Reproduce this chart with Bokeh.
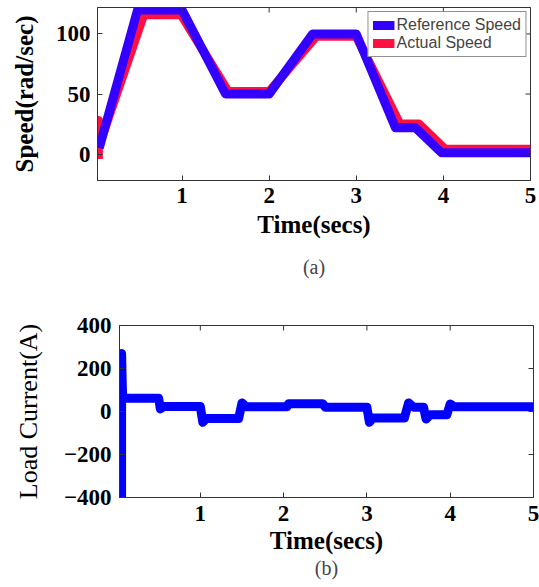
import math
from bokeh.plotting import figure
from bokeh.models import FixedTicker, Legend, LegendItem, Title
from bokeh.embed import file_html
from bokeh.resources import INLINE

# ---- data: panel (a) speed ----
ref_t = [0.05, 0.49, 1.0, 1.5, 2.0, 2.5, 3.0, 3.45, 3.68, 3.98, 5.0]
ref_v = [5, 120, 120, 50, 50, 100, 100, 22, 22, 1, 1]
act_t = [0.04, 0.04, 0.07, 0.56, 0.99, 1.53, 2.0, 2.54, 3.0, 3.5, 3.72, 4.02, 5.0]
act_v = [-4, 28, 12, 116, 116, 52, 52, 98, 98, 25, 25, 4, 4]
speed_yticks = [0, 50, 100]
time_ticks = [1, 2, 3, 4, 5]
speed_xrange = (0.03, 5)
speed_yrange = (-22, 122)

# ---- data: panel (b) load current ----
cur_t = [0.055, 0.055, 0.065, 0.07, 0.09, 0.5, 0.52, 0.56, 1.0, 1.03, 1.07, 1.46,
         1.5, 1.55, 2.04, 2.06, 2.47, 2.5, 3.0, 3.03, 3.07, 3.45, 3.5, 3.56,
         3.68, 3.71, 3.76, 3.96, 4.0, 4.05, 5.0]
cur_v = [-400, 270, 100, 62, 62, 62, 12, 23, 23, -50, -33, -33,
         40, 22, 22, 36, 36, 20, 20, -50, -30, -30, 40, 20,
         20, -35, -15, -15, 35, 22, 22]
cur_yticks = [-400, -200, 0, 200, 400]
cur_xrange = (0.03, 5)
cur_yrange = (-400, 400)

SERIF = "Liberation Serif"
FRAME = "#333333"


def style(p, yticks, xr, yr, tick_standoff, xlabel_standoff, ylabel_standoff,
          ylabel_style, ylabel_size):
    p.xgrid.grid_line_color = None
    p.ygrid.grid_line_color = None
    p.outline_line_color = FRAME
    p.outline_line_width = 1
    for ax in p.xaxis + p.yaxis:
        ax.axis_line_color = FRAME
        ax.major_tick_in = 5
        ax.major_tick_out = 0
        ax.major_tick_line_color = FRAME
        ax.minor_tick_line_color = None
        ax.major_label_text_font = SERIF
        ax.major_label_text_font_style = "bold"
        ax.major_label_text_font_size = "23px"
        ax.major_label_text_color = "black"
        ax.axis_label_text_font = SERIF
        ax.axis_label_text_color = "black"
        ax.major_label_standoff = tick_standoff
    p.xaxis.ticker = FixedTicker(ticks=time_ticks)
    p.yaxis.ticker = FixedTicker(ticks=yticks)
    p.xaxis.axis_label_text_font_style = "bold"
    p.xaxis.axis_label_text_font_size = "25px"
    p.xaxis.axis_label_standoff = xlabel_standoff
    p.yaxis.axis_label_text_font_style = ylabel_style
    p.yaxis.axis_label_text_font_size = ylabel_size
    p.yaxis.axis_label_standoff = ylabel_standoff
    # mirrored (box-style) ticks on the top and right edges, clipped to the frame
    p.scatter(time_ticks, [yr[1]] * len(time_ticks), marker="dash", size=10,
              angle=math.pi / 2, line_color=FRAME, line_width=1)
    p.scatter([xr[1]] * len(yticks), yticks, marker="dash", size=10,
              line_color=FRAME, line_width=1)


# ---- panel (a) ----
p1 = figure(frame_width=433, frame_height=173, x_range=speed_xrange,
            y_range=speed_yrange, output_backend="svg", toolbar_location=None,
            min_border_left=97, min_border_right=9, min_border_top=7,
            min_border_bottom=110)
r_act = p1.line(act_t, act_v, line_color="#ff1040", line_width=9, line_join="round")
r_ref = p1.line(ref_t, ref_v, line_color="#3300ff", line_width=9, line_join="round")
p1.xaxis.axis_label = "Time(secs)"
p1.yaxis.axis_label = "Speed(rad/sec)"
style(p1, speed_yticks, speed_xrange, speed_yrange, 7, 5, 15, "bold", "25px")
leg = Legend(items=[LegendItem(label="Reference Speed", renderers=[r_ref]),
                    LegendItem(label="Actual Speed", renderers=[r_act])],
             location="top_right", margin=4, padding=4, spacing=0,
             label_text_font="Liberation Sans", label_text_font_size="16px",
             label_standoff=2, glyph_width=22, glyph_height=18, label_height=18,
             border_line_color="#222222", border_line_width=1,
             background_fill_alpha=1)
p1.add_layout(leg)
p1.add_layout(Title(text="(a)", align="center", text_font=SERIF,
                    text_font_style="normal", text_font_size="20px",
                    standoff=26), "below")

# ---- panel (b) ----
p2 = figure(frame_width=414, frame_height=172, x_range=cur_xrange,
            y_range=cur_yrange, output_backend="svg", toolbar_location=None,
            min_border_left=119, min_border_right=6, min_border_top=35,
            min_border_bottom=90)
p2.line(cur_t, cur_v, line_color="#0000ff", line_width=9, line_join="round")
p2.xaxis.axis_label = "Time(secs)"
p2.yaxis.axis_label = "Load Current(A)"
style(p2, cur_yticks, cur_xrange, cur_yrange, 8, 3, 18, "normal", "26px")
p2.add_layout(Title(text="(b)", align="center", text_font=SERIF,
                    text_font_style="normal", text_font_size="20px",
                    standoff=-4), "below")

open("out.html", "w").write(file_html([p1, p2], INLINE))
